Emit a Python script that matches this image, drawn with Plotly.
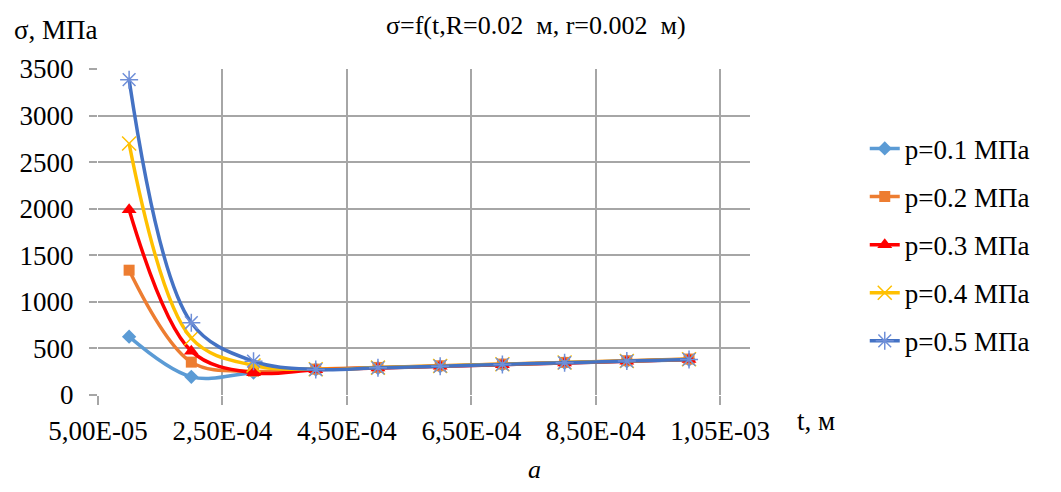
import plotly.graph_objects as go

t_values = [1e-4, 2e-4, 3e-4, 4e-4, 5e-4, 6e-4, 7e-4, 8e-4, 9e-4, 1e-3]
p01 = [626, 195, 240, 274, 290, 308, 326, 344, 362, 378]
p02 = [1340, 353, 256, 278, 296, 314, 332, 350, 368, 386]
p03 = [1990, 471, 238, 272, 290, 308, 326, 344, 362, 380]
p04 = [2700, 610, 317, 276, 294, 312, 330, 348, 366, 384]
p05 = [3385, 776, 363, 274, 292, 310, 328, 346, 364, 382]

series_names = ["p=0.1 МПа", "p=0.2 МПа", "p=0.3 МПа", "p=0.4 МПа", "p=0.5 МПа"]
x_tickvals = [5e-5, 2.5e-4, 4.5e-4, 6.5e-4, 8.5e-4, 1.05e-3]
x_ticktext = ["5,00E-05", "2,50E-04", "4,50E-04", "6,50E-04", "8,50E-04", "1,05E-03"]

colors = ["#5B9BD5", "#ED7D31", "#FF0000", "#FFC000", "#4472C4"]
symbols = ["diamond", "square", "triangle-up", "x-thin", "asterisk"]
sizes = [11, 11, 13, 14, 15]
FONT = "Liberation Serif"

fig = go.Figure()
for i, (name, ys) in enumerate(zip(series_names, [p01, p02, p03, p04, p05])):
    sym = symbols[i]
    marker = dict(symbol=sym, size=sizes[i], color=colors[i])
    if sym in ("x-thin", "asterisk"):
        marker["line"] = dict(color=colors[i] if sym == "x-thin" else "#6F8FD8", width=1.5)
    fig.add_trace(go.Scatter(
        x=t_values, y=ys, name=name, mode="lines+markers",
        line=dict(color=colors[i], width=3.5, shape="spline", smoothing=1.0),
        marker=marker, legendgroup=f"g{i}",
    ))

grid = "#A6A6A6"
fig.update_layout(
    width=1053, height=484,
    margin=dict(l=87, r=311, t=61, b=97),
    paper_bgcolor="white", plot_bgcolor="white",
    font=dict(family=FONT, size=27, color="#000000"),
    showlegend=True,
    legend=dict(x=1.176, y=0.83, xanchor="left", yanchor="top",
                font=dict(family=FONT, size=27, color="#000000"),
                tracegroupgap=10, bgcolor="rgba(0,0,0,0)"),
    xaxis=dict(range=[5e-5, 1.098e-3], tickvals=x_tickvals, ticktext=x_ticktext,
               showgrid=True, gridcolor=grid, gridwidth=1.5,
               ticks="outside", ticklen=9, tickcolor=grid, tickwidth=1.5,
               zeroline=False, showline=False, ticklabelstandoff=3,
               tickfont=dict(family=FONT, size=27, color="#000000")),
    yaxis=dict(range=[0, 3500], dtick=500, tick0=0,
               showgrid=True, gridcolor=grid, gridwidth=1.5,
               ticks="outside", ticklen=8, tickcolor=grid, tickwidth=1.5,
               zeroline=False, showline=False, ticklabelstandoff=10,
               tickfont=dict(family=FONT, size=27, color="#000000")),
    annotations=[
        dict(text="σ=f(t,R=0.02  м, r=0.002  м)", xref="paper", yref="paper",
             x=0.672, y=1.133, xanchor="center", yanchor="middle", showarrow=False,
             font=dict(family=FONT, size=26, color="#000000")),
        dict(text="σ, МПа", xref="paper", yref="paper",
             x=-0.064, y=1.12, xanchor="center", yanchor="middle", showarrow=False,
             font=dict(family=FONT, size=27, color="#000000")),
        dict(text="t, м", xref="paper", yref="paper",
             x=1.101, y=-0.08, xanchor="center", yanchor="middle", showarrow=False,
             font=dict(family=FONT, size=27, color="#000000")),
        dict(text="<i>а</i>", xref="paper", yref="paper",
             x=0.669, y=-0.23, xanchor="center", yanchor="middle", showarrow=False,
             font=dict(family=FONT, size=26, color="#000000")),
    ],
)

fig.write_html("out.html")
